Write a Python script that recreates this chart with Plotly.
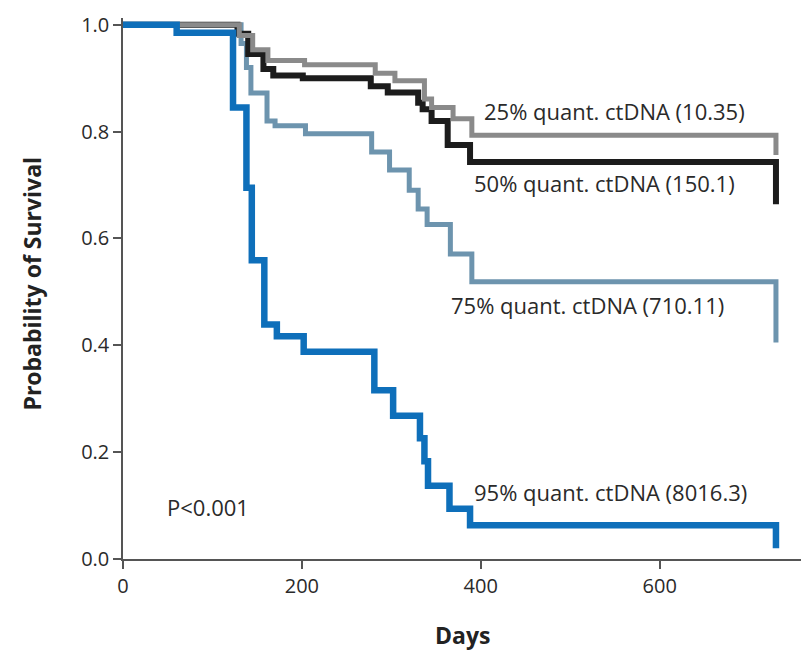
import plotly.graph_objects as go

# Kaplan-Meier step data (days, survival probability)
t25 = [0, 130, 145, 162, 203, 282, 304, 337, 345, 369, 390, 730]
s25 = [1.0, 0.98, 0.953, 0.933, 0.925, 0.909, 0.895, 0.861, 0.845, 0.824, 0.793, 0.756]

t50 = [0, 128, 140, 157, 168, 201, 277, 296, 330, 335, 345, 363, 388, 730]
s50 = [1.0, 0.983, 0.945, 0.917, 0.905, 0.900, 0.885, 0.873, 0.854, 0.842, 0.82, 0.775, 0.743, 0.664]

t75 = [0, 132, 138, 143, 161, 170, 204, 278, 298, 320, 330, 340, 366, 390, 730]
s75 = [1.0, 0.965, 0.92, 0.872, 0.82, 0.811, 0.796, 0.762, 0.728, 0.69, 0.655, 0.626, 0.571, 0.519, 0.405]

t95 = [0, 60, 123, 138, 144, 158, 172, 202, 281, 302, 332, 337, 341, 365, 388, 730]
s95 = [1.0, 0.985, 0.845, 0.695, 0.559, 0.439, 0.417, 0.388, 0.316, 0.268, 0.226, 0.183, 0.137, 0.094, 0.063, 0.02]

labels = ["25% quant. ctDNA (10.35)", "50% quant. ctDNA (150.1)",
          "75% quant. ctDNA (710.11)", "95% quant. ctDNA (8016.3)"]
label_x = [401, 390, 365, 390]
label_y = [0.839, 0.704, 0.475, 0.125]

x_ticks = [0, 200, 400, 600]
y_ticks = [0.0, 0.2, 0.4, 0.6, 0.8, 1.0]
y_ticktext = ["0.0", "0.2", "0.4", "0.6", "0.8", "1.0"]

fig = go.Figure()
series = [
    (t75, s75, "#6d94ae", 5, labels[2]),
    (t50, s50, "#1c1c1c", 6, labels[1]),
    (t25, s25, "#8a8a8a", 5, labels[0]),
    (t95, s95, "#0e6fba", 6.5, labels[3]),
]
for t, s, c, w, name in series:
    fig.add_trace(go.Scatter(x=t, y=s, mode="lines", line=dict(color=c, width=w, shape="hv"),
                             name=name, showlegend=False))

font_fam = "Open Sans, Lato, sans-serif"
for txt, lx, ly in zip(labels, label_x, label_y):
    fig.add_annotation(x=lx, y=ly, text=txt, showarrow=False, xanchor="left", yanchor="middle",
                       font=dict(family=font_fam, size=22, color="#2a2a2a"))

fig.add_annotation(x=47, y=0.097, text="P<0.001", showarrow=False, xanchor="left", yanchor="middle",
                   font=dict(family=font_fam, size=22, color="#2a2a2a"))

PW, PH = 678, 548
# Axis titles
fig.add_annotation(xref="paper", yref="paper", x=(32 - 123) / PW, y=(559 - 280) / PH,
                   text="<b>Probability of Survival</b>",
                   textangle=-90, showarrow=False, xanchor="center", yanchor="middle",
                   font=dict(family=font_fam, size=23, color="#222"))
fig.add_annotation(xref="paper", yref="paper", x=(462 - 123) / PW, y=-(636 - 559) / PH, text="<b>Days</b>",
                   showarrow=False, xanchor="center", yanchor="middle",
                   font=dict(family=font_fam, size=23, color="#222"))

fig.update_layout(
    width=811, height=656,
    margin=dict(l=115, r=18, t=3, b=105),
    plot_bgcolor="white", paper_bgcolor="white",
    font=dict(family=font_fam, size=20, color="#333"),
)
fig.update_xaxes(range=[0, 758], tickvals=x_ticks, showgrid=False, zeroline=False,
                 showline=True, linecolor="#555", linewidth=1.5,
                 ticks="outside", ticklen=8, tickcolor="#555", tickwidth=1.5,
                 tickfont=dict(size=20, color="#2a2a2a"))
fig.update_yaxes(range=[0, 1.0126], tickvals=y_ticks, ticktext=y_ticktext, showgrid=False, zeroline=False,
                 showline=True, linecolor="#555", linewidth=1.5,
                 ticks="outside", ticklen=8, tickcolor="#555", tickwidth=1.5,
                 ticklabeloverflow="allow",
                 tickfont=dict(size=20, color="#2a2a2a"))

fig.write_html("out.html")
